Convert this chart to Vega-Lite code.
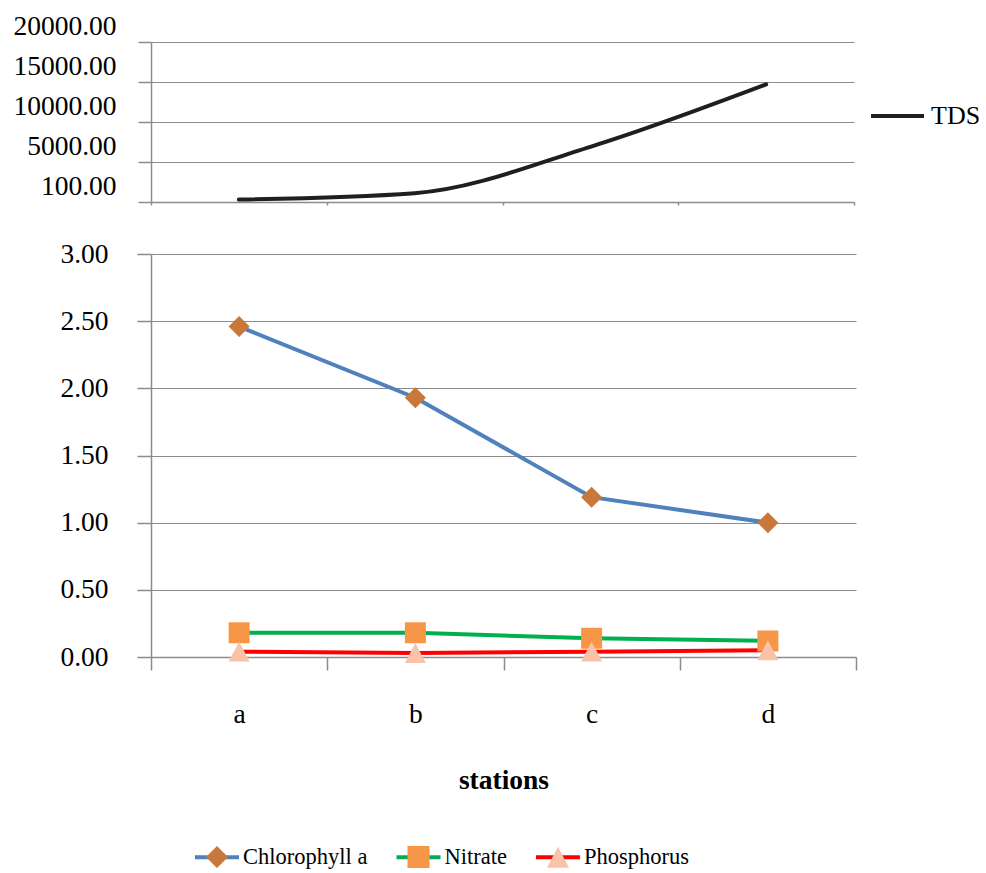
{
  "$schema": "https://vega.github.io/schema/vega-lite/v6.json",
  "padding": {"left": 12, "top": 12, "right": 0, "bottom": 0},
  "background": "white",
  "config": {
    "view": {"stroke": null},
    "font": "Liberation Serif",
    "style": {
      "guide-label": {"font": "Liberation Serif", "fill": "#000000"},
      "guide-title": {"font": "Liberation Serif", "fill": "#000000"}
    },
    "axis": {
      "domainColor": "#8c8c8c",
      "tickColor": "#8c8c8c",
      "gridColor": "#8c8c8c",
      "domainWidth": 1.5,
      "tickWidth": 1.5,
      "gridWidth": 1.2,
      "labelColor": "#000000",
      "titleColor": "#000000",
      "labelFont": "Liberation Serif",
      "titleFont": "Liberation Serif"
    },
    "legend": {"labelFont": "Liberation Serif", "labelColor": "#000000"}
  },
  "datasets": {
    "tds": [
      {"station": "a", "TDS": 300},
      {"station": "b", "TDS": 1100},
      {"station": "c", "TDS": 6900},
      {"station": "d", "TDS": 14700}
    ],
    "nutrients": [
      {"station": "a", "series": "Chlorophyll a", "value": 2.46},
      {"station": "b", "series": "Chlorophyll a", "value": 1.93},
      {"station": "c", "series": "Chlorophyll a", "value": 1.19},
      {"station": "d", "series": "Chlorophyll a", "value": 1.0},
      {"station": "a", "series": "Nitrate", "value": 0.18},
      {"station": "b", "series": "Nitrate", "value": 0.18},
      {"station": "c", "series": "Nitrate", "value": 0.14},
      {"station": "d", "series": "Nitrate", "value": 0.12},
      {"station": "a", "series": "Phosphorus", "value": 0.04},
      {"station": "b", "series": "Phosphorus", "value": 0.03},
      {"station": "c", "series": "Phosphorus", "value": 0.04},
      {"station": "d", "series": "Phosphorus", "value": 0.05}
    ]
  },
  "vconcat": [
    {
      "width": 703,
      "height": 160,
      "data": {"name": "tds"},
      "mark": {"type": "line", "interpolate": "monotone", "strokeWidth": 4, "strokeCap": "round"},
      "encoding": {
        "x": {
          "field": "station",
          "type": "nominal",
          "scale": {"paddingInner": 0, "paddingOuter": 0},
          "axis": {"labels": false, "title": null, "tickBand": "extent", "tickSize": 3, "grid": false}
        },
        "y": {
          "field": "TDS",
          "type": "quantitative",
          "scale": {"domain": [0, 20000]},
          "axis": {
            "values": [0, 5000, 10000, 15000, 20000],
            "labelExpr": "datum.value == 0 ? '100.00' : format(datum.value, '.2f')",
            "labelOffset": -15.5,
            "labelFont": "Liberation Serif",
            "labelFontSize": 27.5,
            "labelPadding": 22,
            "tickSize": 13,
            "title": null,
            "grid": true
          }
        },
        "stroke": {
          "datum": "TDS",
          "scale": {"range": ["#1f1f1f"]},
          "legend": {
            "title": null,
            "orient": "none",
            "legendX": 731,
            "legendY": 58.5,
            "symbolType": "M-2,0H2",
            "symbolSize": 702,
            "symbolStrokeWidth": 4,
            "labelFont": "Liberation Serif",
            "labelFontSize": 26,
            "labelOffset": 18
          }
        }
      }
    },
    {
      "width": 705,
      "height": 403,
      "data": {"name": "nutrients"},
      "encoding": {
        "x": {
          "field": "station",
          "type": "nominal",
          "scale": {"paddingInner": 0, "paddingOuter": 0},
          "axis": {
            "title": "stations",
            "titleFont": "Liberation Serif",
            "titleFontSize": 27.5,
            "titleFontWeight": "bold",
            "titlePadding": 39,
            "labelAngle": 0,
            "labelFont": "Liberation Serif",
            "labelFontSize": 27.5,
            "labelPadding": 30,
            "tickBand": "extent",
            "tickSize": 13,
            "grid": false
          }
        },
        "y": {
          "field": "value",
          "type": "quantitative",
          "scale": {"domain": [0, 3]},
          "axis": {
            "values": [0, 0.5, 1, 1.5, 2, 2.5, 3],
            "format": ".2f",
            "labelFont": "Liberation Serif",
            "labelFontSize": 27.5,
            "labelPadding": 29,
            "tickSize": 14,
            "title": null,
            "grid": true
          }
        }
      },
      "layer": [
        {
          "mark": {"type": "line", "strokeWidth": 4, "strokeCap": "round"},
          "encoding": {
            "stroke": {
              "field": "series",
              "type": "nominal",
              "scale": {
                "domain": ["Chlorophyll a", "Nitrate", "Phosphorus"],
                "range": ["#4f81bd", "#00b050", "#ff0000"]
              },
              "legend": {
                "title": null,
                "orient": "none",
                "direction": "horizontal",
                "legendX": 53,
                "legendY": 590,
                "symbolType": "M-2,0H2",
                "symbolSize": 484,
                "symbolStrokeWidth": 4,
                "labelFont": "Liberation Serif",
                "labelFontSize": 22.5,
                "labelOffset": 13,
                "columnPadding": 20.5,
                "zindex": 0
              }
            }
          }
        },
        {
          "mark": {"type": "point", "filled": true, "size": 441, "opacity": 1},
          "encoding": {
            "fill": {
              "field": "series",
              "type": "nominal",
              "scale": {"range": ["#c8783a", "#f79646", "#f8c3a8"]},
              "legend": {
                "title": null,
                "orient": "none",
                "direction": "horizontal",
                "legendX": 53,
                "legendY": 590,
                "symbolSize": 484,
                "symbolStrokeWidth": 4,
                "symbolStrokeColor": "transparent",
                "labelFont": "Liberation Serif",
                "labelFontSize": 22.5,
                "labelOffset": 13,
                "labelOpacity": 0,
                "columnPadding": 20.5,
                "zindex": 1
              }
            },
            "shape": {
              "field": "series",
              "type": "nominal",
              "scale": {
                "range": [
                  "M-2,0H2M0,-1L1,0L0,1L-1,0Z",
                  "M-2,0H2M-1,-1H1V1H-1Z",
                  "M-2,0H2M0,-0.95L1,0.95L-1,0.95Z"
                ]
              },
              "legend": {
                "title": null,
                "orient": "none",
                "direction": "horizontal",
                "legendX": 53,
                "legendY": 590,
                "symbolSize": 484,
                "symbolStrokeWidth": 4,
                "symbolStrokeColor": "transparent",
                "labelFont": "Liberation Serif",
                "labelFontSize": 22.5,
                "labelOffset": 13,
                "labelOpacity": 0,
                "columnPadding": 20.5,
                "zindex": 1
              }
            }
          }
        }
      ]
    }
  ],
  "spacing": 32,
  "resolve": {
    "scale": {
      "x": "independent",
      "y": "independent",
      "stroke": "independent",
      "fill": "independent",
      "shape": "independent"
    },
    "legend": {"stroke": "independent", "fill": "independent", "shape": "independent"}
  }
}
